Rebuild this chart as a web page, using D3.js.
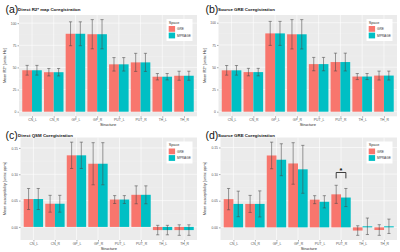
<!DOCTYPE html>
<head>
  <meta charset="utf-8">
  <script src="https://d3js.org/d3.v7.min.js"></script>
  <style>
    body { margin:0; background:#fff; }
    text { font-family: "Liberation Sans", Arial, sans-serif; }
  </style>
</head>
<body>
<script>
// categories and groups
var structures = ["CN_L", "CN_R", "GP_L", "GP_R", "PUT_L", "PUT_R", "TH_L", "TH_R"];
var spaces = ["GRE", "MPRAGE"];
var spaceColors = ["#F8766D", "#00BFC4"];

// tick labels
var r2Ticks = [0, 25, 50, 75, 100];
var qsmTicks = [0, 0.05, 0.10, 0.15];

// (a) direct R2* map coregistration
var aGreMean = [46.8, 44.6, 88.0, 87.5, 53.5, 55.7, 39.5, 40.6];
var aGreSd   = [5.5, 4.2, 13.5, 16.5, 7.6, 10.2, 3.6, 5.1];
var aMprMean = [46.8, 44.6, 88.0, 87.5, 53.5, 55.7, 39.5, 40.6];
var aMprSd   = [5.5, 4.2, 13.5, 16.5, 7.6, 10.2, 3.6, 5.1];

// (b) source GRE coregistration (R2*)
var bGreMean = [46.5, 44.5, 88.0, 87.0, 53.5, 55.8, 39.5, 40.6];
var bGreSd   = [5.4, 4.2, 13.5, 16.5, 7.5, 10.0, 3.4, 5.0];
var bMprMean = [46.5, 44.5, 88.0, 87.0, 53.5, 55.8, 39.5, 40.6];
var bMprSd   = [5.4, 4.2, 13.5, 16.5, 7.5, 10.0, 3.4, 5.0];

// (c) direct QSM coregistration
var cGreMean = [0.053, 0.044, 0.136, 0.120, 0.052, 0.061, -0.006, -0.006];
var cGreSd   = [0.020, 0.016, 0.025, 0.040, 0.0075, 0.017, 0.009, 0.010];
var cMprMean = [0.053, 0.044, 0.136, 0.120, 0.052, 0.061, -0.006, -0.006];
var cMprSd   = [0.020, 0.016, 0.025, 0.040, 0.0075, 0.017, 0.009, 0.010];

// (d) source GRE coregistration (susceptibility)
var dGreMean = [0.053, 0.044, 0.135, 0.120, 0.052, 0.062, -0.006, -0.005];
var dGreSd   = [0.020, 0.016, 0.025, 0.039, 0.0075, 0.017, 0.009, 0.010];
var dMprMean = [0.044, 0.044, 0.127, 0.109, 0.048, 0.056, 0.002, 0.002];
var dMprSd   = [0.024, 0.0245, 0.030, 0.045, 0.0115, 0.017, 0.0155, 0.0135];

// significance marker in (d)
var sigStructure = "PUT_R";
var sigTop = 0.103, sigBottom = 0.092, sigLabel = "*";

var W = 400, H = 252;
var svg = d3.select("body").append("svg")
  .attr("width", W).attr("height", H);

var panels = [
  { ox: 0,   oy: 0,   tag: "(a)", title: "Direct R2* map Coregistration", ytitle: "Mean R2* [units: Hz]",
    gre: aGreMean, greSd: aGreSd, mpr: aMprMean, mprSd: aMprSd, ticks: r2Ticks, fmt: d3.format("d"),
    left: 19, right: 197, top: 15, bottom: 116.3 },
  { ox: 200, oy: 0,   tag: "(b)", title: "Source GRE Coregistration", ytitle: "Mean R2* [units: Hz]",
    gre: bGreMean, greSd: bGreSd, mpr: bMprMean, mprSd: bMprSd, ticks: r2Ticks, fmt: d3.format("d"),
    left: 18.5, right: 197, top: 15, bottom: 116.3 },
  { ox: 0,   oy: 126, tag: "(c)", title: "Direct QSM Coregistration", ytitle: "Mean susceptibility [units: ppm]",
    gre: cGreMean, greSd: cGreSd, mpr: cMprMean, mprSd: cMprSd, ticks: qsmTicks, fmt: d3.format(".2f"),
    left: 20.5, right: 197, top: 11.5, bottom: 114 },
  { ox: 200, oy: 126, tag: "(d)", title: "Source GRE Coregistration", ytitle: "Mean susceptibility [units: ppm]",
    gre: dGreMean, greSd: dGreSd, mpr: dMprMean, mprSd: dMprSd, ticks: qsmTicks, fmt: d3.format(".2f"),
    left: 20.5, right: 197, top: 11.5, bottom: 114, sig: true }
];

panels.forEach(function(p) {
  var g = svg.append("g").attr("transform", "translate(" + p.ox + "," + p.oy + ")");

  var rows = [];
  structures.forEach(function(s, i) {
    rows.push({ s: s, space: "GRE", k: 0, m: p.gre[i], sd: p.greSd[i] });
    rows.push({ s: s, space: "MPRAGE", k: 1, m: p.mpr[i], sd: p.mprSd[i] });
  });

  // ggplot style limits: data range plus 5%
  var lo = d3.min(rows, function(d) { return Math.min(0, d.m - d.sd); });
  var hi = d3.max(rows, function(d) { return d.m + d.sd; });
  var pad = (hi - lo) * 0.05;

  var y = d3.scaleLinear().domain([lo - pad, hi + pad]).range([p.bottom, p.top]);

  // discrete x with 0.6 unit padding each side
  var unit = (p.right - p.left) / (structures.length - 1 + 1.2);
  var x = d3.scalePoint().domain(structures)
    .range([p.left + 0.6 * unit, p.right - 0.6 * unit]);
  var xs = d3.scaleBand().domain(spaces).range([-0.45 * unit, 0.45 * unit]);

  // panel background
  g.append("rect")
    .attr("x", p.left).attr("y", p.top)
    .attr("width", p.right - p.left).attr("height", p.bottom - p.top)
    .attr("fill", "#EBEBEB");

  // minor grid
  var step = p.ticks[1] - p.ticks[0];
  var minors = [];
  for (var t = p.ticks[0] - step / 2; t <= p.ticks[p.ticks.length - 1] + step; t += step) {
    if (t > y.domain()[0] && t < y.domain()[1]) minors.push(t);
  }
  g.selectAll(".minor").data(minors).enter().append("line")
    .attr("x1", p.left).attr("x2", p.right)
    .attr("y1", function(d) { return y(d); }).attr("y2", function(d) { return y(d); })
    .attr("stroke", "#F5F5F5").attr("stroke-width", 0.3);

  // major grid
  g.selectAll(".hmaj").data(p.ticks).enter().append("line")
    .attr("x1", p.left).attr("x2", p.right)
    .attr("y1", function(d) { return y(d); }).attr("y2", function(d) { return y(d); })
    .attr("stroke", "#fff").attr("stroke-width", 0.6);
  g.selectAll(".vmaj").data(structures).enter().append("line")
    .attr("x1", function(d) { return x(d); }).attr("x2", function(d) { return x(d); })
    .attr("y1", p.top).attr("y2", p.bottom)
    .attr("stroke", "#fff").attr("stroke-width", 0.6);

  // bars
  g.selectAll(".bar").data(rows).enter().append("rect")
    .attr("x", function(d) { return x(d.s) + xs(d.space); })
    .attr("width", xs.bandwidth())
    .attr("y", function(d) { return Math.min(y(d.m), y(0)); })
    .attr("height", function(d) { return Math.abs(y(d.m) - y(0)); })
    .attr("fill", function(d) { return spaceColors[d.k]; });

  // error bars
  var cap = 1.6;
  var eb = g.selectAll(".eb").data(rows).enter().append("g")
    .attr("transform", function(d) { return "translate(" + (x(d.s) + xs(d.space) + xs.bandwidth() / 2) + ",0)"; })
    .attr("stroke", "#4a4a4a").attr("stroke-width", 0.55);
  eb.append("line").attr("x1", 0).attr("x2", 0)
    .attr("y1", function(d) { return y(d.m + d.sd); }).attr("y2", function(d) { return y(d.m - d.sd); });
  eb.append("line").attr("x1", -cap).attr("x2", cap)
    .attr("y1", function(d) { return y(d.m + d.sd); }).attr("y2", function(d) { return y(d.m + d.sd); });
  eb.append("line").attr("x1", -cap).attr("x2", cap)
    .attr("y1", function(d) { return y(d.m - d.sd); }).attr("y2", function(d) { return y(d.m - d.sd); });

  // axes
  var yAxis = d3.axisLeft(y).tickValues(p.ticks).tickFormat(p.fmt).tickSize(1.5).tickPadding(1);
  var ya = g.append("g").attr("transform", "translate(" + p.left + ",0)").call(yAxis);
  var xAxis = d3.axisBottom(x).tickSize(1.5).tickPadding(1);
  var xa = g.append("g").attr("transform", "translate(0," + p.bottom + ")").call(xAxis);
  [ya, xa].forEach(function(a) {
    a.select(".domain").remove();
    a.selectAll(".tick line").attr("stroke", "#555").attr("stroke-width", 0.5);
    a.selectAll(".tick text").attr("fill", "#555").style("font-size", "3.4px");
  });

  // axis titles
  g.append("text")
    .attr("x", (p.left + p.right) / 2).attr("y", p.bottom + 10)
    .attr("text-anchor", "middle").style("font-size", "4px").attr("fill", "#222")
    .text("Structure");
  g.append("text")
    .attr("transform", "translate(6," + ((p.top + p.bottom) / 2) + ") rotate(-90)")
    .attr("text-anchor", "middle").style("font-size", "3.8px").attr("fill", "#222")
    .text(p.ytitle);

  // panel tag and title
  g.append("text").attr("x", 5.5).attr("y", 13)
    .style("font-size", "10.5px").attr("fill", "#111").text(p.tag);
  g.append("text").attr("x", 18).attr("y", 11.3)
    .style("font-size", "4.4px").style("font-weight", "bold").attr("fill", "#111").text(p.title);

  // legend
  var lx = p.right - 30.5, ly = p.top + 4;
  var lg = g.append("g").attr("transform", "translate(" + lx + "," + ly + ")");
  lg.append("rect").attr("width", 26).attr("height", 22).attr("fill", "#fff");
  lg.append("text").attr("x", 2.2).attr("y", 4.8)
    .style("font-size", "3.8px").attr("fill", "#333").text("Space");
  spaces.forEach(function(s, i) {
    lg.append("rect").attr("x", 2.2).attr("y", 7 + i * 6.6)
      .attr("width", 6.4).attr("height", 5.8).attr("fill", spaceColors[i]);
    lg.append("text").attr("x", 10.5).attr("y", 11.2 + i * 6.6)
      .style("font-size", "3.2px").attr("fill", "#333").text(s);
  });

  // significance bracket
  if (p.sig) {
    var cx = x(sigStructure);
    var x1 = cx + xs("GRE") + xs.bandwidth() / 2;
    var x2 = cx + xs("MPRAGE") + xs.bandwidth() / 2;
    g.append("path")
      .attr("d", "M" + x1 + "," + y(sigBottom) + "V" + y(sigTop) + "H" + x2 + "V" + y(sigBottom))
      .attr("fill", "none").attr("stroke", "#111").attr("stroke-width", 0.8);
    g.append("text").attr("x", (x1 + x2) / 2).attr("y", y(sigTop) + 0.2)
      .attr("text-anchor", "middle").style("font-size", "7.5px").style("font-weight", "bold")
      .attr("fill", "#111").text(sigLabel);
  }
});
</script>
</body>
